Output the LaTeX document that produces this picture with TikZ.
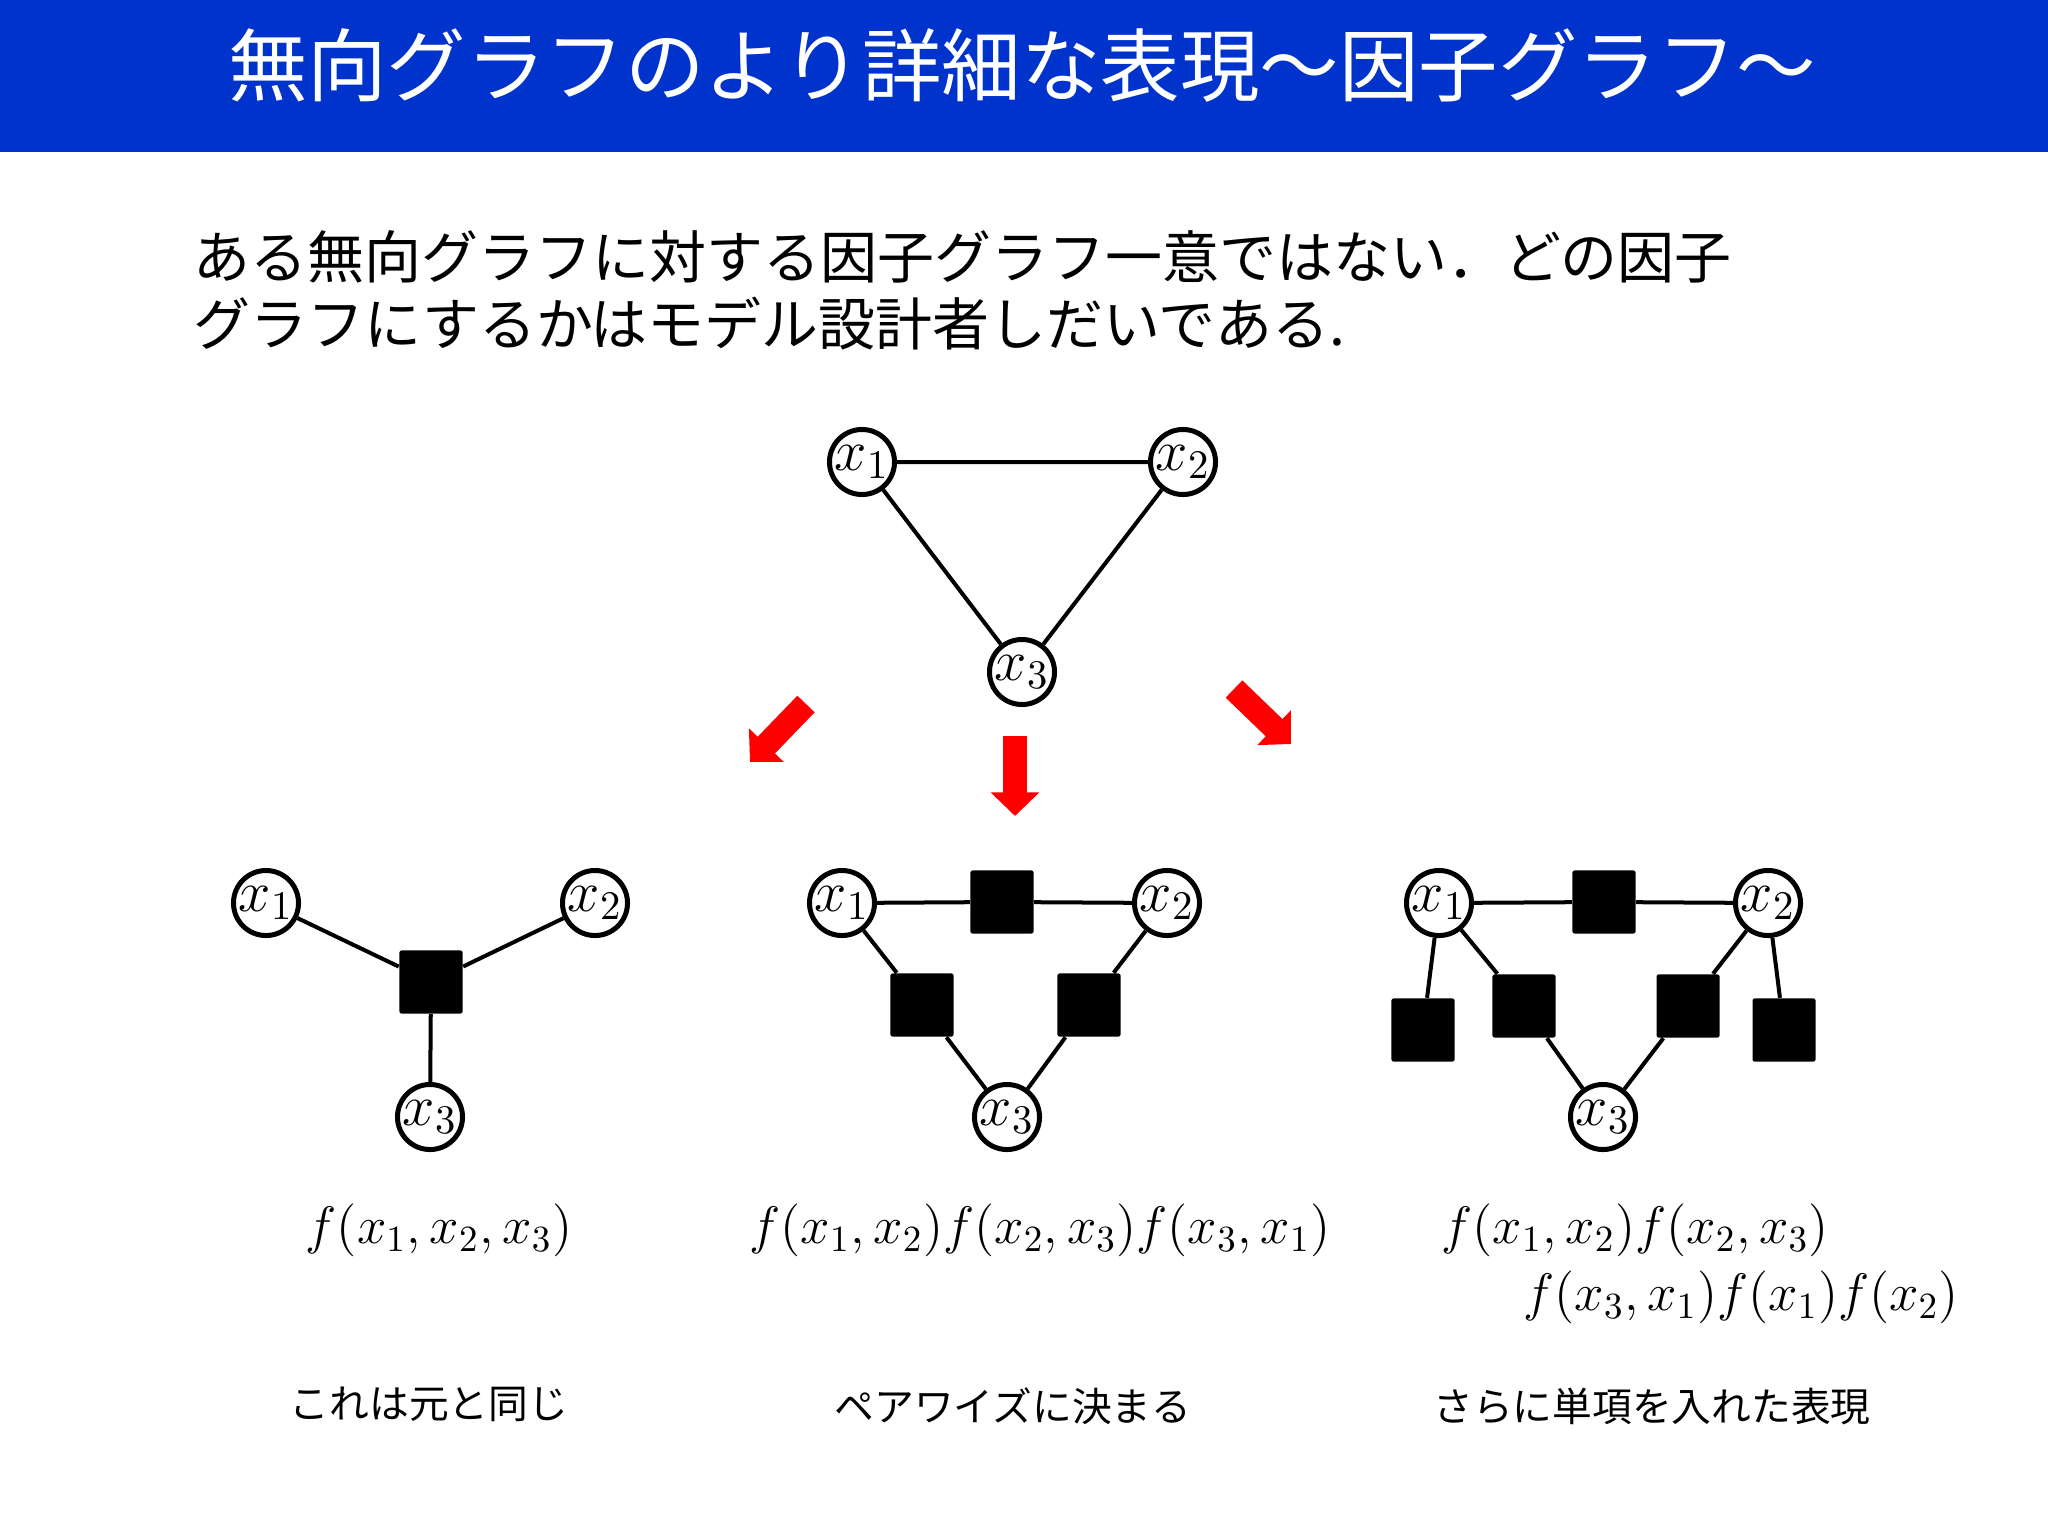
\documentclass[tikz,border=0pt]{standalone}
\usepackage{fix-cm}
\usepackage{amsmath}
\usepackage{xcolor}
\usepackage{fontspec}
\newfontfamily\jpfont{Noto Sans CJK JP}
\usepackage{tikz}
\usetikzlibrary{positioning,arrows.meta}

\definecolor{titleblue}{RGB}{0,51,204}
\definecolor{arrowred}{RGB}{255,0,0}

\begin{document}
\begin{tikzpicture}[x=0.01cm,y=-0.01cm]
	\tikzstyle{var}=[circle,draw,line width=0.05cm,fill=white,minimum size=0.65cm,inner sep=0pt,font=\fontsize{16.5}{16.5}\selectfont]
	\tikzstyle{factor}=[rectangle,fill=black,minimum size=0.63cm,inner sep=0pt,rounded corners=0.02cm]
	\tikzstyle{link}=[line width=0.04cm]
	\tikzstyle{bigarrow}=[arrowred,line width=0.24cm,-{Triangle[width=0.47cm,length=0.235cm]}]
	\tikzstyle{jptext}=[inner sep=0pt,font=\jpfont\fontsize{16.2}{19}\selectfont]
	\tikzstyle{caption}=[inner sep=0pt,font=\jpfont\fontsize{11.3}{13}\selectfont]
	\tikzstyle{formula}=[inner sep=0pt,font=\fontsize{15}{18}\selectfont]

	\useasboundingbox (0,0) rectangle (2048,1536);

	% title bar
	\fill[titleblue] (0,0) rectangle (2048,152);
	\node[text=white,inner sep=0pt,font=\jpfont\fontsize{22.6}{27}\selectfont] (title) at (1022,65)
		{無向グラフのより詳細な表現～因子グラフ～};

	\node[jptext,anchor=west] (line1) at (193,257) {ある無向グラフに対する因子グラフ一意ではない．どの因子};
	\node[jptext,anchor=west] (line2) at (193,324) {グラフにするかはモデル設計者しだいである.};

	% undirected graph
	\node[var] (t1) at (862,462) {$x_1$};
	\node[var] (t2) at (1183,462) {$x_2$};
	\node[var] (t3) at (1022,672) {$x_3$};
	\draw[link] (t1) -- (t2) -- (t3) -- (t1);

	% red arrows
	\coordinate (la0) at (806,704);
	\coordinate (la1) at (750,762);
	\coordinate (ma0) at (1015,736);
	\coordinate (ma1) at (1015,816);
	\coordinate (ra0) at (1234,689);
	\coordinate (ra1) at (1291,744);
	\draw[bigarrow] (la0) -- (la1);
	\draw[bigarrow] (ma0) -- (ma1);
	\draw[bigarrow] (ra0) -- (ra1);

	% one factor
	\node[var] (l1) at (266,903) {$x_1$};
	\node[var] (l2) at (595,903) {$x_2$};
	\node[var] (l3) at (430,1117) {$x_3$};
	\node[factor] (lf) at (431,982) {};
	\draw[link] (l1) -- (lf);
	\draw[link] (l2) -- (lf);
	\draw[link] (l3) -- (lf);

	% pairwise factors
	\node[var] (m1) at (842,903) {$x_1$};
	\node[var] (m2) at (1167,903) {$x_2$};
	\node[var] (m3) at (1007,1117) {$x_3$};
	\node[factor] (mf12) at (1002,902) {};
	\node[factor] (mf13) at (922,1005) {};
	\node[factor] (mf23) at (1089,1005) {};
	\draw[link] (m1) -- (mf12) -- (m2);
	\draw[link] (m1) -- (mf13) -- (m3);
	\draw[link] (m2) -- (mf23) -- (m3);

	% pairwise and unary factors
	\node[var] (r1) at (1439,903) {$x_1$};
	\node[var] (r2) at (1768,903) {$x_2$};
	\node[var] (r3) at (1603,1117) {$x_3$};
	\node[factor] (rf12) at (1604,902) {};
	\node[factor] (rf13) at (1524,1006) {};
	\node[factor] (rf23) at (1688,1006) {};
	\node[factor] (rf1) at (1423,1030) {};
	\node[factor] (rf2) at (1784,1030) {};
	\draw[link] (r1) -- (rf12) -- (r2);
	\draw[link] (r1) -- (rf13) -- (r3);
	\draw[link] (r2) -- (rf23) -- (r3);
	\draw[link] (r1) -- (rf1);
	\draw[link] (r2) -- (rf2);

	% formulas
	\node[formula] (fl) at (439,1230) {$f(x_1,x_2,x_3)$};
	\node[formula] (fm) at (1040,1230) {$f(x_1,x_2)f(x_2,x_3)f(x_3,x_1)$};
	\node[formula,anchor=west] (fr1) at (1441,1230) {$f(x_1,x_2)f(x_2,x_3)$};
	\node[formula,anchor=west] (fr2) at (1523,1297) {$f(x_3,x_1)f(x_1)f(x_2)$};

	% captions
	\node[caption] (cl) at (429,1404) {これは元と同じ};
	\node[caption] (cm) at (1013,1406) {ペアワイズに決まる};
	\node[caption] (cr) at (1652,1406) {さらに単項を入れた表現};
\end{tikzpicture}
\end{document}
